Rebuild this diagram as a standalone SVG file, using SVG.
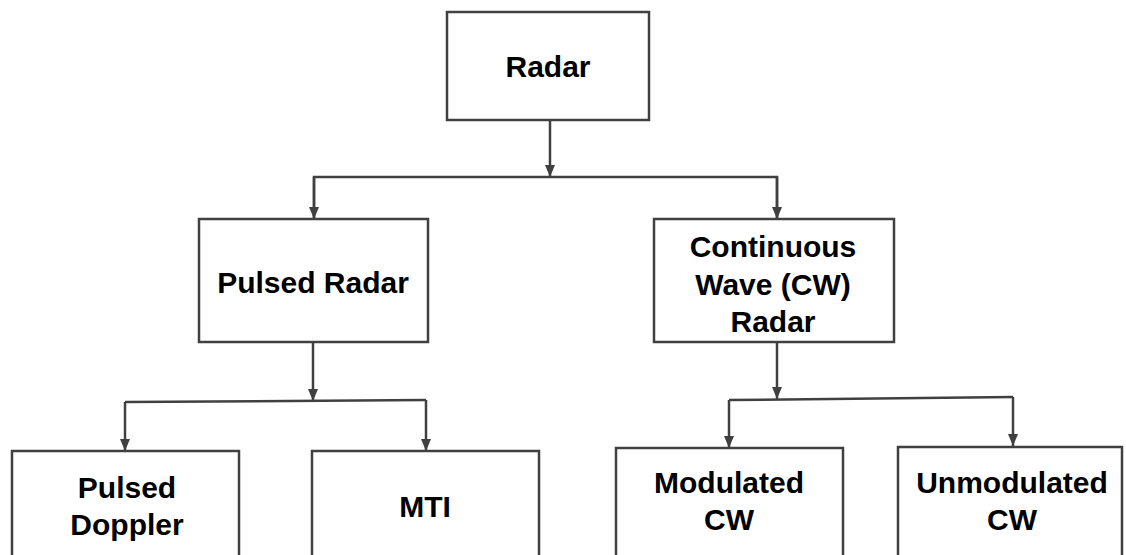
<svg xmlns="http://www.w3.org/2000/svg" width="1126" height="555" viewBox="0 0 1126 555">
  <defs>
    <marker id="arrow" viewBox="0 0 12 10" refX="12" refY="5" markerWidth="12" markerHeight="10" markerUnits="userSpaceOnUse" orient="auto">
      <path d="M0,0 L12,5 L0,10 Z" fill="#404040"/>
    </marker>
    <style>
      .box { fill: #ffffff; stroke: #404040; stroke-width: 2.5; }
      .lbl { font-family: "Liberation Sans", Arial, sans-serif; font-weight: bold; font-size: 30px; fill: #000000; text-anchor: middle; }
      .wire { fill: none; stroke: #404040; stroke-width: 2.5; }
      .tip { fill: none; stroke: #404040; stroke-width: 2.5; marker-end: url(#arrow); }
    </style>
  </defs>
  <rect width="1126" height="555" fill="#ffffff"/>

  <g id="connectors">
    <!-- Radar to first level -->
    <line class="tip" x1="550" y1="121" x2="550" y2="177"/>
    <polyline class="wire" points="314,219 314,177 777,177 777,219"/>
    <line class="tip" x1="314" y1="177" x2="314" y2="219"/>
    <line class="tip" x1="777" y1="177" x2="777" y2="219"/>
    <!-- Pulsed Radar branch -->
    <line class="tip" x1="313" y1="343" x2="313" y2="401"/>
    <polyline class="wire" points="125,402 426,400"/>
    <line class="tip" x1="125" y1="402" x2="125" y2="451"/>
    <line class="tip" x1="426" y1="400" x2="426" y2="451"/>
    <!-- CW Radar branch -->
    <line class="tip" x1="777" y1="343" x2="777" y2="399"/>
    <polyline class="wire" points="729,400 1013,397"/>
    <line class="tip" x1="729" y1="400" x2="729" y2="448"/>
    <line class="tip" x1="1013" y1="397" x2="1013" y2="446"/>
  </g>

  <g id="radar">
    <rect class="box" x="447" y="12" width="202" height="108"/>
    <text class="lbl" x="548" y="77">Radar</text>
  </g>

  <g id="pulsed-radar">
    <rect class="box" x="199" y="219" width="229" height="123"/>
    <text class="lbl" x="313" y="293">Pulsed Radar</text>
  </g>

  <g id="cw-radar">
    <rect class="box" x="654" y="219" width="240" height="123"/>
    <text class="lbl" x="773" y="257">Continuous</text>
    <text class="lbl" x="773" y="295">Wave (CW)</text>
    <text class="lbl" x="773" y="332">Radar</text>
  </g>

  <g id="pulsed-doppler">
    <rect class="box" x="12" y="451" width="227" height="120"/>
    <text class="lbl" x="127" y="498">Pulsed</text>
    <text class="lbl" x="127" y="535">Doppler</text>
  </g>

  <g id="mti">
    <rect class="box" x="312" y="451" width="227" height="120"/>
    <text class="lbl" x="425" y="517">MTI</text>
  </g>

  <g id="modulated-cw">
    <rect class="box" x="616" y="448" width="227" height="120"/>
    <text class="lbl" x="729" y="493">Modulated</text>
    <text class="lbl" x="729" y="530">CW</text>
  </g>

  <g id="unmodulated-cw">
    <rect class="box" x="898" y="447" width="224" height="120"/>
    <text class="lbl" x="1012" y="493">Unmodulated</text>
    <text class="lbl" x="1012" y="530">CW</text>
  </g>
</svg>
